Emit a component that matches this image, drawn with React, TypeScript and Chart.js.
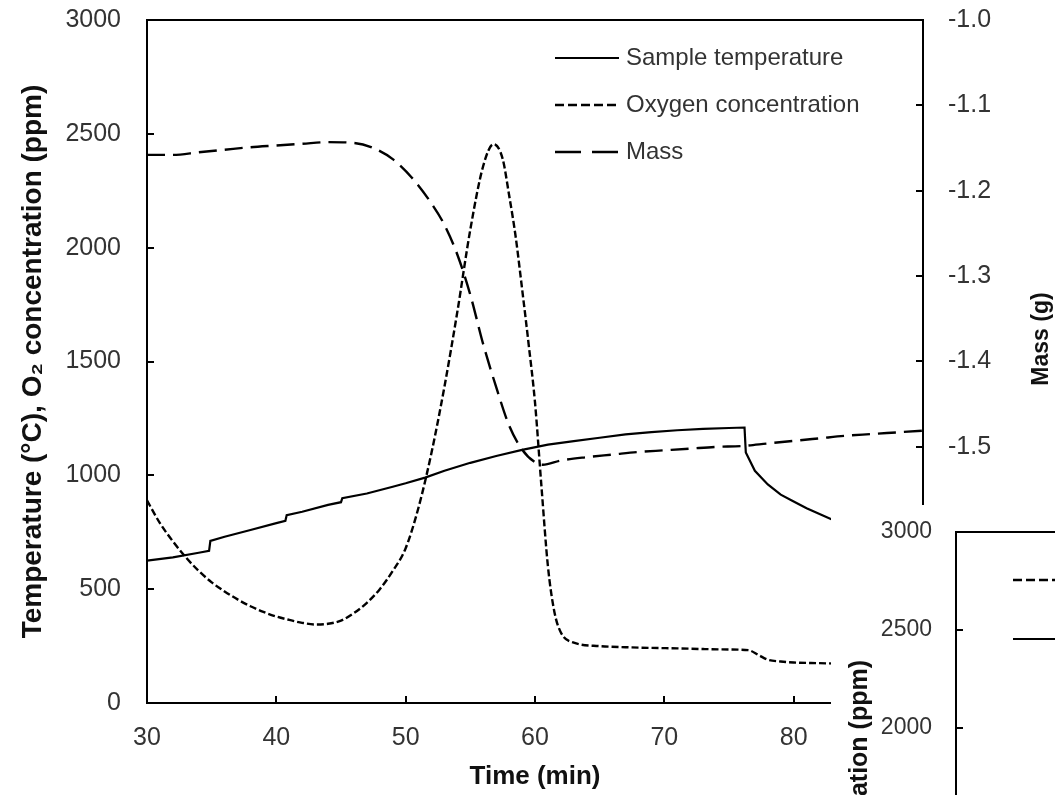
import React, { useEffect, useRef } from 'react';
import { Chart, registerables } from 'chart.js';

Chart.register(...registerables);

// ---------- Data ----------
const tempTime = [30, 32, 34, 34.8, 34.9, 36, 38, 40, 40.7, 40.8, 42, 44, 45, 45.1, 47, 49, 50, 51.5, 53, 55, 57, 59, 61, 63, 65, 67, 69, 71, 73, 75, 76.2, 76.3, 77, 78, 79, 80, 81, 82, 83, 84];
const tempC = [625, 640, 660, 668, 712, 730, 760, 790, 800, 825, 840, 870, 882, 900, 920, 950, 965, 990, 1020, 1055, 1085, 1112, 1135, 1150, 1165, 1180, 1190, 1198, 1204, 1208, 1210, 1100, 1020, 960, 915, 885, 855, 830, 805, 790];

const oxyTime = [30, 31, 32, 33, 34, 35, 36, 37, 38, 39, 40, 41, 42, 43, 44, 45, 46, 47, 48, 49, 50, 51, 52, 53, 54, 55, 56, 56.8, 57.5, 58, 58.5, 59, 59.5, 60, 60.5, 61, 61.5, 62, 63, 65, 67, 69, 71, 73, 75, 76.5, 77.3, 78, 79, 80, 82, 84];
const oxyPpm = [890, 790, 710, 640, 580, 530, 490, 455, 425, 400, 380, 365, 352, 345, 348, 362, 395, 440, 500, 580, 680, 860, 1100, 1390, 1720, 2080, 2360, 2455, 2390, 2230, 2050, 1820, 1580, 1320, 950, 600, 400, 310, 265, 250, 245, 242, 240, 237, 235, 232, 210, 190, 182, 178, 175, 172];

const massTime = [30, 32, 34, 36, 38, 40, 42, 44, 46, 47.5, 49, 50.5, 52, 53, 54, 55, 56, 57, 58, 59, 60, 60.6, 62, 64, 66, 68, 70, 72, 74, 76, 78, 80, 82, 84, 86, 88, 90];
const massG = [-1.158, -1.158, -1.155, -1.152, -1.149, -1.147, -1.145, -1.143, -1.144, -1.15, -1.163, -1.185, -1.215, -1.24, -1.275, -1.322, -1.38, -1.43, -1.475, -1.503, -1.518, -1.521, -1.516, -1.512, -1.509, -1.506, -1.504, -1.502, -1.5, -1.499, -1.496, -1.493, -1.49, -1.487, -1.485, -1.483, -1.481];

// Overlapping second figure (only its corner is visible; no curves in view)
const insetOxyTime: number[] = [];
const insetOxyPpm: number[] = [];
const insetTempTime: number[] = [];
const insetTempC: number[] = [];

const seriesLabels = ['Sample temperature', 'Oxygen concentration', 'Mass'];
const insetLabels = ['Oxygen concentration', 'Sample temperature'];

const FONT = '"Liberation Sans", Arial, Helvetica, sans-serif';

const pts = (xs: number[], ys: number[]) => xs.map((x, i) => ({ x, y: ys[i] }));

// ---------- Plugins ----------
const framePlugin = {
  id: 'frame',
  afterDatasetsDraw(chart: any) {
    const { ctx, chartArea: a, scales } = chart;
    ctx.save();
    ctx.strokeStyle = '#000';
    ctx.lineWidth = 2;
    ctx.setLineDash([]);
    ctx.strokeRect(a.left, a.top, a.right - a.left, a.bottom - a.top);
    const len = 7;
    ctx.beginPath();
    Object.values(scales).forEach((s: any) => {
      s.ticks.forEach((t: any) => {
        const p = Math.round(s.getPixelForValue(t.value));
        if (s.axis === 'x') {
          ctx.moveTo(p, a.bottom);
          ctx.lineTo(p, a.bottom - len);
        } else if (s.position === 'left') {
          ctx.moveTo(a.left, p);
          ctx.lineTo(a.left + len, p);
        } else {
          ctx.moveTo(a.right, p);
          ctx.lineTo(a.right - len, p);
        }
      });
    });
    ctx.stroke();
    ctx.restore();
  },
};

function makeLegend(cfg: { x0: number; x1: number; textX: number; ys: number[]; dashes: number[][]; font: string; color: string }) {
  return {
    id: 'insideLegend',
    afterDraw(chart: any) {
      const ctx = chart.ctx;
      ctx.save();
      chart.data.datasets.forEach((ds: any, i: number) => {
        const y = cfg.ys[i];
        ctx.strokeStyle = ds.borderColor;
        ctx.lineWidth = ds.borderWidth;
        ctx.setLineDash(cfg.dashes[i]);
        ctx.beginPath();
        ctx.moveTo(cfg.x0, y);
        ctx.lineTo(cfg.x1, y);
        ctx.stroke();
        ctx.setLineDash([]);
        ctx.fillStyle = cfg.color;
        ctx.font = cfg.font;
        ctx.textAlign = 'left';
        ctx.textBaseline = 'middle';
        ctx.fillText(ds.label, cfg.textX, y);
      });
      ctx.restore();
    },
  };
}

function makeSideTitle(cfg: { text: string; x: number; y: number; align: CanvasTextAlign; font: string; color: string }) {
  return {
    id: 'sideTitle',
    afterDraw(chart: any) {
      const ctx = chart.ctx;
      ctx.save();
      ctx.translate(cfg.x, cfg.y);
      ctx.rotate(-Math.PI / 2);
      ctx.font = cfg.font;
      ctx.fillStyle = cfg.color;
      ctx.textAlign = cfg.align;
      ctx.textBaseline = 'middle';
      ctx.fillText(cfg.text, 0, 0);
      ctx.restore();
    },
  };
}

const tickFont = { family: FONT, size: 25 };
const tickColor = '#333';
const plain = (v: any) => String(v);

const fixVertical = (w: number) => (s: any) => {
  s.width = w;
  s.paddingTop = 0;
  s.paddingBottom = 0;
};
const fixHorizontal = (h: number) => (s: any) => {
  s.height = h;
  s.paddingLeft = 0;
  s.paddingRight = 0;
};

export default function App() {
  const mainRef = useRef<HTMLCanvasElement>(null);
  const insetRef = useRef<HTMLCanvasElement>(null);

  useEffect(() => {
    const main = new Chart(mainRef.current as HTMLCanvasElement, {
      type: 'line',
      data: {
        datasets: [
          {
            label: seriesLabels[0],
            data: pts(tempTime, tempC),
            yAxisID: 'y',
            borderColor: '#000',
            borderWidth: 2.2,
            pointRadius: 0,
            tension: 0,
          },
          {
            label: seriesLabels[1],
            data: pts(oxyTime, oxyPpm),
            yAxisID: 'y',
            borderColor: '#000',
            borderWidth: 2.4,
            borderDash: [7, 3],
            pointRadius: 0,
            cubicInterpolationMode: 'monotone',
          },
          {
            label: seriesLabels[2],
            data: pts(massTime, massG),
            yAxisID: 'y1',
            borderColor: '#000',
            borderWidth: 2.4,
            borderDash: [18, 8],
            pointRadius: 0,
            cubicInterpolationMode: 'monotone',
          },
        ],
      } as any,
      options: {
        responsive: false,
        animation: false,
        layout: { padding: { top: 20, left: 0, right: 0, bottom: 0 } },
        scales: {
          x: {
            type: 'linear',
            min: 30,
            max: 90,
            ticks: { stepSize: 10, font: tickFont, color: tickColor, padding: 20, maxRotation: 0, callback: plain },
            grid: { display: false, drawTicks: false },
            border: { display: false },
            title: {
              display: true,
              text: 'Time (min)',
              font: { family: FONT, size: 26, weight: 'bold' },
              color: '#111',
              padding: { top: 0, bottom: 3 },
            },
            afterFit: fixHorizontal(92),
          },
          y: {
            position: 'left',
            min: 0,
            max: 3000,
            ticks: { stepSize: 500, font: tickFont, color: tickColor, padding: 26, callback: plain },
            grid: { display: false, drawTicks: false },
            border: { display: false },
            title: {
              display: true,
              text: 'Temperature (°C), O₂ concentration (ppm)',
              font: { family: FONT, size: 28, weight: 'bold' },
              color: '#111',
              padding: { top: 16, bottom: 0 },
            },
            afterFit: fixVertical(147),
          },
          y1: {
            position: 'right',
            min: -1.8,
            max: -1.0,
            ticks: {
              stepSize: 0.1,
              font: tickFont,
              color: tickColor,
              padding: 25,
              callback: (v: any) => Number(v).toFixed(1),
            },
            grid: { display: false, drawTicks: false },
            border: { display: false },
            afterFit: fixVertical(132),
          },
        },
        plugins: {
          legend: { display: false },
          tooltip: { enabled: false },
        },
      } as any,
      plugins: [
        framePlugin,
        makeLegend({
          x0: 555,
          x1: 619,
          textX: 626,
          ys: [58, 105, 152],
          dashes: [[], [9, 4], [26, 11]],
          font: `24px ${FONT}`,
          color: '#333',
        }),
        makeSideTitle({ text: 'Mass (g)', x: 1042, y: 339, align: 'center', font: `bold 23px ${FONT}`, color: '#111' }),
      ] as any,
    });

    const inset = new Chart(insetRef.current as HTMLCanvasElement, {
      type: 'line',
      data: {
        datasets: [
          {
            label: insetLabels[0],
            data: pts(insetOxyTime, insetOxyPpm),
            borderColor: '#000',
            borderWidth: 2.4,
            borderDash: [7, 3],
            pointRadius: 0,
          },
          {
            label: insetLabels[1],
            data: pts(insetTempTime, insetTempC),
            borderColor: '#000',
            borderWidth: 2.2,
            pointRadius: 0,
          },
        ],
      } as any,
      options: {
        responsive: false,
        animation: false,
        layout: { padding: { top: 27, left: 0, right: 20, bottom: 0 } },
        scales: {
          x: {
            type: 'linear',
            min: 30,
            max: 90,
            ticks: { stepSize: 10, font: { family: FONT, size: 23 }, color: tickColor, padding: 18, callback: plain },
            grid: { display: false, drawTicks: false },
            border: { display: false },
            afterFit: fixHorizontal(85),
          },
          y: {
            position: 'left',
            min: 0,
            max: 3000,
            ticks: { stepSize: 500, font: { family: FONT, size: 23 }, color: tickColor, padding: 24, callback: plain },
            grid: { display: false, drawTicks: false },
            border: { display: false },
            afterFit: fixVertical(125),
          },
        },
        plugins: {
          legend: { display: false },
          tooltip: { enabled: false },
        },
      } as any,
      plugins: [
        framePlugin,
        makeLegend({
          x0: 182,
          x1: 240,
          textX: 248,
          ys: [75, 134],
          dashes: [[9, 4], []],
          font: `22px ${FONT}`,
          color: '#333',
        }),
        makeSideTitle({ text: 'O₂ concentration (ppm)', x: 29, y: 155, align: 'right', font: `bold 25px ${FONT}`, color: '#111' }),
      ] as any,
    });

    return () => {
      main.destroy();
      inset.destroy();
    };
  }, []);

  return (
    <div>
      <div style={{ position: 'fixed', left: 0, top: 0, width: 1055, height: 795, background: '#fff' }}>
        <canvas ref={mainRef} width={1055} height={795} style={{ display: 'block' }} />
      </div>
      <div
        style={{
          position: 'fixed',
          left: 831,
          top: 505,
          width: 224,
          height: 290,
          overflow: 'hidden',
          background: '#fff',
        }}
      >
        <canvas ref={insetRef} width={600} height={700} style={{ display: 'block' }} />
      </div>
    </div>
  );
}
